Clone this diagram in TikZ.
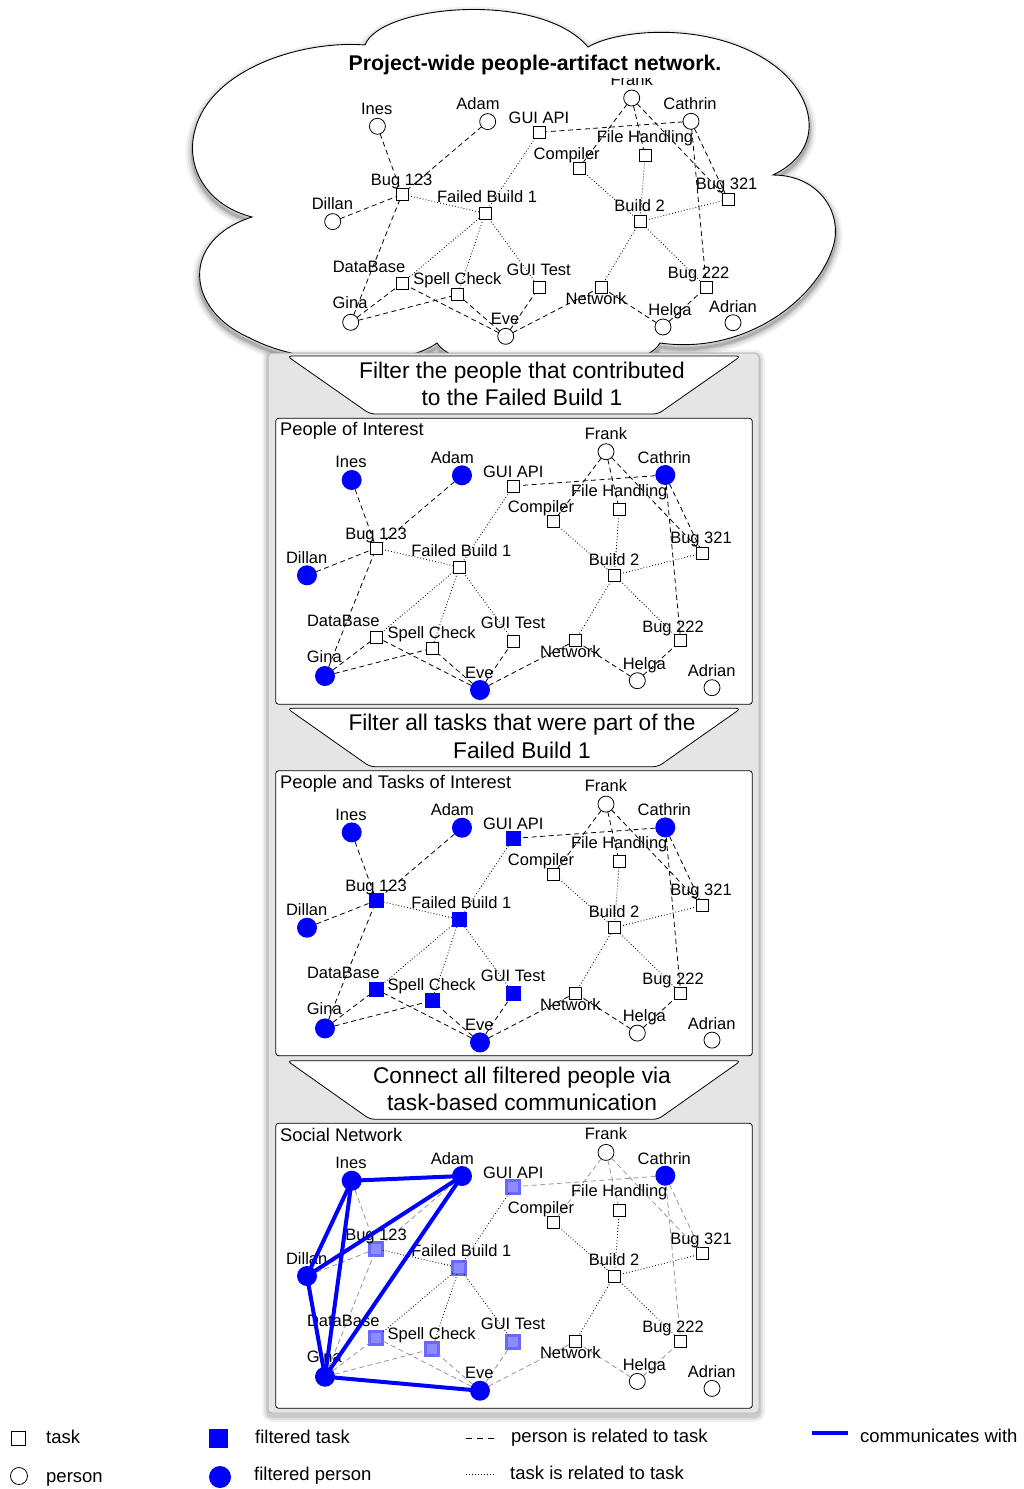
\documentclass[tikz,border=0pt]{standalone}
\usepackage{fontspec}
\setmainfont{Liberation Sans}
\definecolor{fblue}{RGB}{0,0,255}
\definecolor{ftaskfill}{RGB}{140,140,255}
\definecolor{ftaskline}{RGB}{105,105,255}
\definecolor{panelgray}{RGB}{229,229,229}
\definecolor{panelrim}{RGB}{185,185,185}
\definecolor{softlink}{RGB}{150,150,150}

\newcommand\lblfont{\fontsize{16.5}{19}\selectfont}
\newcommand\bannerfont{\fontsize{22.7}{27}\selectfont}
\newcommand\panelfont{\fontsize{18.3}{22}\selectfont}
\newcommand\legendfont{\fontsize{18.5}{22}\selectfont}
\newcommand\titlefont{\fontsize{21.3}{25}\selectfont\bfseries}

\tikzset{
  pers/.style={circle, draw=black, fill=white, line width=0.8pt, minimum size=16pt, inner sep=0pt, outer sep=0pt},
  task/.style={rectangle, draw=black, fill=white, line width=0.8pt, minimum size=12pt, inner sep=0pt, outer sep=0pt},
  fpers/.style={pers},
  ftask/.style={task},
  lbl/.style={anchor=base, inner sep=0pt, font=\lblfont},
  ptlink/.style={black, line width=0.8pt, dash pattern=on 5pt off 3.5pt},
  ttlink/.style={black, line width=0.9pt, dash pattern=on 0.8pt off 2.2pt},
  comm/.style={fblue, line width=4pt, line cap=round},
  banner/.style={draw=black, fill=white, line width=0.8pt, rounded corners=5pt},
  bannertext/.style={anchor=base, inner sep=0pt, font=\bannerfont},
  panelbox/.style={draw=black, fill=white, line width=0.8pt, rounded corners=3pt},
  paneltitle/.style={anchor=base west, inner sep=0pt, font=\panelfont},
  legendtext/.style={anchor=base west, inner sep=0pt, font=\legendfont},
  bluepeople/.style={fpers/.style={pers, fill=fblue, draw=none, minimum size=20pt}},
  bluetasks/.style={ftask/.style={task, fill=fblue, draw=none, minimum size=15pt}},
  softtasks/.style={ftask/.style={task, fill=ftaskfill, draw=ftaskline, line width=2.8pt, minimum size=13pt}},
  softlinks/.style={ptlink/.style={softlink, line width=0.8pt, dash pattern=on 5pt off 3.5pt}},
}

% outline of the cloud around the project-wide network
\def\cloudpath{(252,217) .. controls (205,205) and (185,165) .. (195,130)
  .. controls (210,70) and (300,40) .. (365,45)
  .. controls (380,5) and (540,-10) .. (588,47)
  .. controls (620,28) and (720,20) .. (780,70)
  .. controls (815,100) and (825,150) .. (773,175)
  .. controls (820,175) and (845,215) .. (832,250)
  .. controls (815,300) and (745,355) .. (660,343)
  .. controls (640,380) and (460,380) .. (437,343)
  .. controls (400,370) and (300,365) .. (250,338)
  .. controls (185,310) and (180,240) .. (252,217) -- cycle}

% the people-artifact network; #1 is the prefix of the node names,
% #2 and #3 place Adrian and his label
\newcommand\netgraph[3]{%
  % people
  \node[fpers] (#1ines)  at (351.7,480)   {};
  \node[fpers] (#1adam)  at (462,475.3)   {};
  \node[pers]  (#1frank) at (606,451.7)   {};
  \node[fpers] (#1cath)  at (665.3,475)   {};
  \node[fpers] (#1dill)  at (307,575.3)   {};
  \node[fpers] (#1gina)  at (325,676)     {};
  \node[fpers] (#1eve)   at (480,690)     {};
  \node[pers]  (#1helga) at (637.3,680.7) {};
  \node[pers]  (#1adri)  at (#2)          {};
  % tasks
  \node[ftask] (#1gapi)  at (513.3,486)   {};
  \node[task]  (#1comp)  at (553.3,521.7) {};
  \node[task]  (#1fh)    at (619.3,509.3) {};
  \node[ftask] (#1b123)  at (376.3,548)   {};
  \node[ftask] (#1fb1)   at (459.3,567)   {};
  \node[task]  (#1b2)    at (614.3,575.3) {};
  \node[task]  (#1b321)  at (702.3,553)   {};
  \node[ftask] (#1db)    at (376.3,637)   {};
  \node[ftask] (#1sc)    at (432,648.3)   {};
  \node[ftask] (#1gt)    at (513.3,641)   {};
  \node[task]  (#1net)   at (575.3,640.7) {};
  \node[task]  (#1b222)  at (680.7,640.7) {};
  % person is related to task
  \draw[ptlink] (#1ines) -- (#1b123);
  \draw[ptlink] (#1adam) -- (#1b123);
  \draw[ptlink] (#1dill) -- (#1b123);
  \draw[ptlink] (#1gina) -- (#1b123);
  \draw[ptlink] (#1gina) -- (#1db);
  \draw[ptlink] (#1gina) -- (#1sc);
  \draw[ptlink] (#1eve) -- (#1db);
  \draw[ptlink] (#1eve) -- (#1sc);
  \draw[ptlink] (#1eve) -- (#1gt);
  \draw[ptlink] (#1eve) -- (#1net);
  \draw[ptlink] (#1helga) -- (#1net);
  \draw[ptlink] (#1helga) -- (#1b222);
  \draw[ptlink] (#1cath) -- (#1gapi);
  \draw[ptlink] (#1cath) -- (#1b321);
  \draw[ptlink] (#1cath) -- (#1b222);
  \draw[ptlink] (#1frank) -- (#1comp);
  \draw[ptlink] (#1frank) -- (#1fh);
  \draw[ptlink] (#1frank) -- (#1b321);
  % task is related to task
  \draw[ttlink] (#1b123) -- (#1fb1);
  \draw[ttlink] (#1gapi) -- (#1fb1);
  \draw[ttlink] (#1fb1) -- (#1db);
  \draw[ttlink] (#1fb1) -- (#1sc);
  \draw[ttlink] (#1fb1) -- (#1gt);
  \draw[ttlink] (#1comp) -- (#1b2);
  \draw[ttlink] (#1fh) -- (#1b2);
  \draw[ttlink] (#1b2) -- (#1b321);
  \draw[ttlink] (#1b2) -- (#1net);
  \draw[ttlink] (#1b2) -- (#1b222);
  % labels
  \node[lbl] (#1ines-t)  at (351,467.7)   {Ines};
  \node[lbl] (#1adam-t)  at (452.3,463.3) {Adam};
  \node[lbl] (#1frank-t) at (606,439)     {Frank};
  \node[lbl] (#1cath-t)  at (664.3,463.3) {Cathrin};
  \node[lbl] (#1dill-t)  at (306.7,563.3) {Dillan};
  \node[lbl] (#1gina-t)  at (324.3,662)   {Gina};
  \node[lbl] (#1eve-t)   at (479.3,678)   {Eve};
  \node[lbl] (#1helga-t) at (644.3,669.3) {Helga};
  \node[lbl] (#1adri-t)  at (#3)          {Adrian};
  \node[lbl] (#1gapi-t)  at (513.3,477.3) {GUI API};
  \node[lbl] (#1comp-t)  at (541,512.7)   {Compiler};
  \node[lbl] (#1fh-t)    at (619.3,496)   {File Handling};
  \node[lbl] (#1b123-t)  at (376,539.3)   {Bug 123};
  \node[lbl] (#1fb1-t)   at (461.3,556)   {Failed Build 1};
  \node[lbl] (#1b2-t)    at (614,565)     {Build 2};
  \node[lbl] (#1b321-t)  at (701,543.3)   {Bug 321};
  \node[lbl] (#1db-t)    at (343.3,626)   {DataBase};
  \node[lbl] (#1sc-t)    at (431.7,638.3) {Spell Check};
  \node[lbl] (#1gt-t)    at (513,628.7)   {GUI Test};
  \node[lbl] (#1net-t)   at (570.3,657.7) {Network};
  \node[lbl] (#1b222-t)  at (673,632)     {Bug 222};
}

\begin{document}
\begin{tikzpicture}[x=1pt,y=-1pt]
\useasboundingbox (0,0) rectangle (1024,1489);

% cloud with a soft shadow
\foreach \w/\o in {14/0.05,10/0.07,6/0.10,3/0.14}
  \draw[black, opacity=\o, line width=\w pt, shift={(0,4)}] \cloudpath;
\draw[fill=white, line width=0.9pt] \cloudpath;
\begin{scope}[shift={(25.7,-353.7)}]
  \netgraph{c-}{707.3,676.4}{707.3,665.7}
\end{scope}
\node[font=\titlefont, anchor=base, fill=white, inner xsep=0pt, inner ysep=3pt] (title) at (535,70.6) {Project-wide people-artifact network.};

% grey frame holding the three filter steps
\foreach \w/\o in {12/0.05,8/0.07,4/0.10}
  \draw[black, opacity=\o, line width=\w pt, rounded corners=4pt, shift={(0,3)}] (268,353) rectangle (759,1413);
\draw[fill=panelgray, draw=panelrim, line width=1pt, rounded corners=4pt] (268,353) rectangle (759,1413);

% step banners
\draw[banner] (287,356) -- (741,356) -- (658,414) -- (370,414) -- cycle;
\node[bannertext] (ban1a) at (522,378.1) {Filter the people that contributed};
\node[bannertext] (ban1b) at (522,405.8) {to the Failed Build 1};
\draw[banner] (287,708.3) -- (741,708.3) -- (658,766.7) -- (370,766.7) -- cycle;
\node[bannertext] (ban2a) at (522,730.4) {Filter all tasks that were part of the};
\node[bannertext] (ban2b) at (522,758.1) {Failed Build 1};
\draw[banner] (287,1060.7) -- (741,1060.7) -- (658,1119.3) -- (370,1119.3) -- cycle;
\node[bannertext] (ban3a) at (522,1083.1) {Connect all filtered people via};
\node[bannertext] (ban3b) at (522,1110.8) {task-based communication};

% panel 1: people of interest
\draw[panelbox] (275.7,418.3) rectangle (752.3,704.3);
\node[paneltitle] (pt1) at (280,435.6) {People of Interest};
\begin{scope}[bluepeople]
  \netgraph{a-}{712,687.7}{711.7,676.7}
\end{scope}

% panel 2: people and tasks of interest
\draw[panelbox] (275.7,770.7) rectangle (752.3,1055.7);
\node[paneltitle] (pt2) at (280,788.3) {People and Tasks of Interest};
\begin{scope}[shift={(0,352.4)}, bluepeople, bluetasks]
  \netgraph{b-}{712,687.7}{711.7,676.7}
\end{scope}

% panel 3: social network
\draw[panelbox] (275.7,1123.3) rectangle (752.3,1408.3);
\node[paneltitle] (pt3) at (280,1141.6) {Social Network};
\begin{scope}[shift={(0,700.7)}, bluepeople, softtasks, softlinks]
  \netgraph{s-}{712,687.7}{711.7,676.7}
  \draw[comm] (s-ines) -- (s-adam);
  \draw[comm] (s-ines) -- (s-dill);
  \draw[comm] (s-ines) -- (s-gina);
  \draw[comm] (s-adam) -- (s-dill);
  \draw[comm] (s-adam) -- (s-gina);
  \draw[comm] (s-dill) -- (s-gina);
  \draw[comm] (s-gina) -- (s-eve);
\end{scope}

% legend
\node[task, minimum size=14pt] (lg-task) at (18,1438) {};
\node[legendtext] (lg-task-t) at (46,1443.6) {task};
\node[pers, minimum size=17pt] (lg-pers) at (19,1476) {};
\node[legendtext] (lg-pers-t) at (46,1482) {person};
\node[rectangle, fill=fblue, minimum width=19pt, minimum height=19pt, inner sep=0pt] (lg-ftask) at (218,1438) {};
\node[legendtext] (lg-ftask-t) at (255,1443.6) {filtered task};
\node[circle, fill=fblue, minimum size=22pt, inner sep=0pt] (lg-fpers) at (220,1477) {};
\node[legendtext] (lg-fpers-t) at (254,1480.6) {filtered person};
\coordinate (lg-pt-a) at (466,1438);
\coordinate (lg-pt-b) at (498,1438);
\draw[black, line width=0.8pt, dash pattern=on 6pt off 5pt] (lg-pt-a) -- (lg-pt-b);
\node[legendtext] (lg-pt-t) at (511,1442.6) {person is related to task};
\coordinate (lg-tt-a) at (466,1474);
\coordinate (lg-tt-b) at (495,1474);
\draw[ttlink] (lg-tt-a) -- (lg-tt-b);
\node[legendtext] (lg-tt-t) at (510,1479.6) {task is related to task};
\coordinate (lg-cm-a) at (812,1433);
\coordinate (lg-cm-b) at (848,1433);
\draw[comm, line cap=butt] (lg-cm-a) -- (lg-cm-b);
\node[legendtext] (lg-cm-t) at (860,1442.6) {communicates with};
\end{tikzpicture}
\end{document}
